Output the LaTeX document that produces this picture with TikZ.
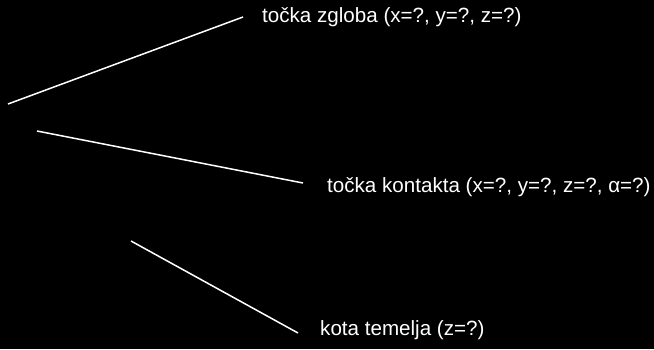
\documentclass[tikz,border=0pt]{standalone}
\usepackage{fontspec}
\setmainfont{Liberation Sans}
\usetikzlibrary{calc}

\begin{document}
\begin{tikzpicture}[x=1pt,y=-1pt,
  lbl/.style={anchor=west,text=white,font=\fontsize{20.6}{24}\selectfont,inner sep=0pt},
  lead/.style={draw=white,line width=1.5pt}]
  % ---- background ----
  \fill[black] (0,0) rectangle (654,349);
  \useasboundingbox (0,0) rectangle (654,349);
  % ---- labels ----
  \node[lbl] (zgl) at (262,17)  {točka zgloba (x=?, y=?, z=?)};
  \node[lbl] (kon) at (327,187) {točka kontakta (x=?, y=?, z=?, α=?)};
  \node[lbl] (tem) at (320,330) {kota temelja (z=?)};
  % ---- leader lines ----
  \coordinate (p1) at (8,104);
  \coordinate (p2) at (37,131);
  \coordinate (p3) at (131,241);
  \draw[lead] (p1) -- ($(zgl.west)+(-19,0)$);
  \draw[lead] (p2) -- ($(kon.west)+(-24,-4)$);
  \draw[lead] (p3) -- ($(tem.west)+(-22,3)$);
\end{tikzpicture}
\end{document}
